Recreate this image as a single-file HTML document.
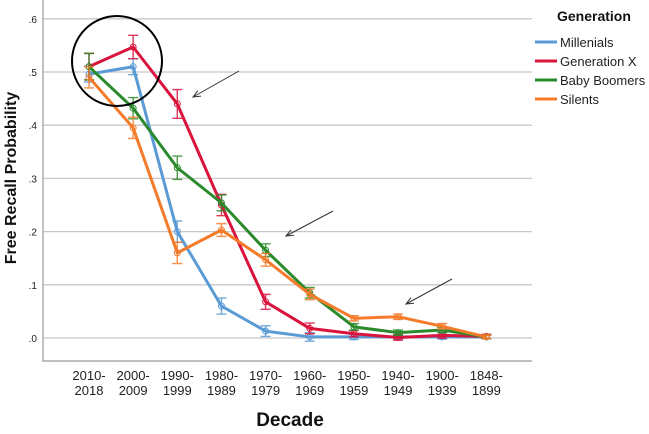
<!DOCTYPE html>
<html><head><meta charset="utf-8"><style>
html,body{margin:0;padding:0;background:#fff;}
svg{display:block;font-family:"Liberation Sans",Arial,sans-serif;}
</style></head><body>
<svg id="chart" width="649" height="434"></svg>
<script>
const categories=["2010-|2018","2000-|2009","1990-|1999","1980-|1989","1970-|1979","1960-|1969","1950-|1959","1940-|1949","1900-|1939","1848-|1899"];
const seriesNames=["Millenials","Generation X","Baby Boomers","Silents"];
const millenials=[0.496,0.51,0.20,0.06,0.013,0.002,0.002,0.002,0.002,0.002];
const genX=[0.51,0.547,0.44,0.25,0.068,0.018,0.008,0.001,0.005,0.003];
const boomers=[0.51,0.432,0.32,0.254,0.165,0.085,0.021,0.01,0.015,0.002];
const silents=[0.49,0.395,0.16,0.203,0.147,0.082,0.037,0.04,0.022,0.002];
const errMill=[0.015,0.015,0.02,0.015,0.01,0.008,0.005,0.004,0.004,0.003];
const errGenX=[0.025,0.022,0.027,0.02,0.014,0.01,0.006,0.005,0.005,0.004];
const errBoom=[0.025,0.02,0.022,0.015,0.012,0.01,0.006,0.005,0.005,0.003];
const errSil=[0.02,0.02,0.02,0.012,0.012,0.01,0.005,0.005,0.005,0.003];
const yTicks=[0,0.1,0.2,0.3,0.4,0.5,0.6];
const yTickLabels=[".0",".1",".2",".3",".4",".5",".6"];
const colors=["#5b9bd5","#d9143d","#2b8a2b","#f47b2a"];

const NS="http://www.w3.org/2000/svg";
const svg=document.getElementById('chart');
function mk(t,a,p){const e=document.createElementNS(NS,t);for(const k in a)e.setAttribute(k,a[k]);(p||svg).appendChild(e);return e;}
const x=i=>89+i*44.15;
const y=v=>338-v*532;

const grid=mk('g',{});


yTicks.forEach((t,i)=>{
  const l=mk('line',{x1:43,x2:532,y1:y(t),y2:y(t),stroke:'#c8c8c8','stroke-width':1.3},grid);
  
  
  const tx=mk('text',{x:37,y:y(t)+4,'text-anchor':'end','font-size':10,fill:'#222'});
  tx.textContent=yTickLabels[i];
  
  
});
const ax=mk('path',{d:'M43,0 V361 H532',fill:'none',stroke:'#999','stroke-width':1.2});



categories.forEach((c,i)=>{
  const parts=c.split('|');
  const t=mk('text',{x:x(i),y:380,'text-anchor':'middle','font-size':13,fill:'#222'});
  
  
  const a=mk('tspan',{x:x(i),dy:0},t);a.textContent=parts[0];
  const b=mk('tspan',{x:x(i),dy:15},t);b.textContent=parts[1];
});

const xt=mk('text',{x:290,y:426,'text-anchor':'middle','font-size':19,'font-weight':'bold',fill:'#111'});
xt.textContent='Decade';


const yt=mk('text',{x:0,y:0,transform:'translate(16,178) rotate(-90)','text-anchor':'middle','font-size':16,'font-weight':'bold',fill:'#111'});
yt.textContent='Free Recall Probability';



const allSeries=[millenials,genX,boomers,silents];
const allErr=[errMill,errGenX,errBoom,errSil];
allSeries.forEach((s,si)=>{
  const g=mk('g',{});
  
  
  s.forEach((v,i)=>{
    const e=allErr[si][i];
    const eb=mk('path',{d:`M${x(i)},${y(v+e)}V${y(v-e)}M${x(i)-5},${y(v+e)}h10M${x(i)-5},${y(v-e)}h10`,stroke:colors[si],'stroke-width':1.4,fill:'none',opacity:0.85},g);
    
    
    const c=mk('circle',{cx:x(i),cy:y(v),r:3,fill:'none',stroke:colors[si],'stroke-width':1},g);
    
    
  });
  const ln=mk('polyline',{points:s.map((v,i)=>x(i)+','+y(v)).join(' '),fill:'none',stroke:colors[si],'stroke-width':3,'stroke-linejoin':'round'},g);
  
  
});

const circ=mk('circle',{cx:117,cy:61,r:45,fill:'none',stroke:'#000','stroke-width':2});


[[239,71,193,97],[333,211,286,236],[452,279,406,304]].forEach(a=>{
  const [x1,y1,x2,y2]=a;
  const ang=Math.atan2(y2-y1,x2-x1);
  const h=8;
  const p1=[x2-h*Math.cos(ang-0.4),y2-h*Math.sin(ang-0.4)];
  const p2=[x2-h*Math.cos(ang+0.4),y2-h*Math.sin(ang+0.4)];
  const ar=mk('path',{d:`M${x1},${y1}L${x2},${y2}M${p1[0]},${p1[1]}L${x2},${y2}L${p2[0]},${p2[1]}`,stroke:'#333','stroke-width':1,fill:'none'});
  
  
});

const lg=mk('g',{});


const lt=mk('text',{x:557,y:21,'font-size':14,'font-weight':'bold',fill:'#111'},lg);
lt.textContent='Generation';


seriesNames.forEach((n,i)=>{
  const yy=42+i*19;
  const e=mk('g',{},lg);
  
  
  mk('line',{x1:535,x2:557,y1:yy,y2:yy,stroke:colors[i],'stroke-width':3},e);
  const t=mk('text',{x:560,y:yy+5,'font-size':13,fill:'#222'},e);
  t.textContent=n;
});
</script>
</body></html>
